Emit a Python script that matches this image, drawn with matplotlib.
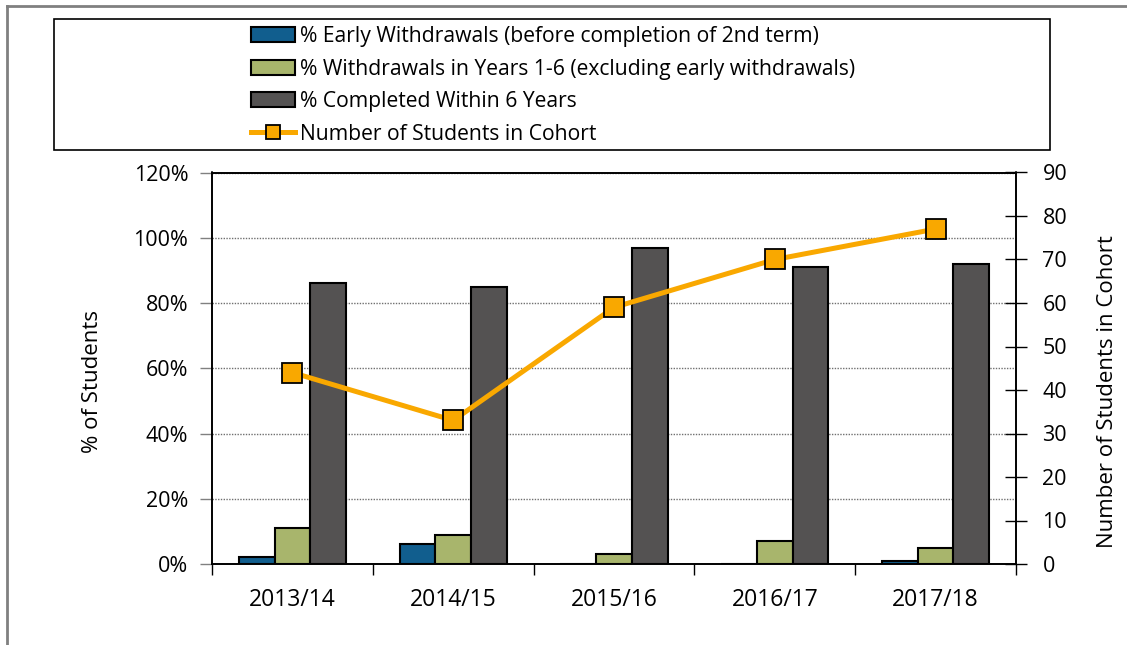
import numpy as np
import matplotlib
matplotlib.use("Agg")
import matplotlib.pyplot as plt
from matplotlib.lines import Line2D
from matplotlib.patches import Rectangle

years = ["2013/14", "2014/15", "2015/16", "2016/17", "2017/18"]
early_withdrawals = [2, 6, 0, 0, 1]
withdrawals_1_6 = [11, 9, 3, 7, 5]
completed_6 = [86, 85, 97, 91, 92]
cohort_size = [44, 33, 59, 70, 77]

labels = [
    "% Early Withdrawals (before completion of 2nd term)",
    "% Withdrawals in Years 1-6 (excluding early withdrawals)",
    "% Completed Within 6 Years",
    "Number of Students in Cohort",
]
colors = ["#115e8e", "#a8b56c", "#545252"]
line_color = "#f9a800"

plt.rcParams['font.family'] = ['Open Sans', 'DejaVu Sans']

fig = plt.figure(figsize=(11.27, 6.45), dpi=100)
ax = fig.add_axes([212 / 1127, 81 / 645, 804 / 1127, 391.5 / 645])
ax2 = ax.twinx()

x = np.arange(len(years))
w = 0.222
series = [early_withdrawals, withdrawals_1_6, completed_6]
bars = []
for i, vals in enumerate(series):
    b = ax.bar(x + (i - 1) * w, vals, w, color=colors[i], edgecolor="black",
               linewidth=1.5, label=labels[i], zorder=3)
    bars.append(b)

ln, = ax2.plot(x, cohort_size, color=line_color, linewidth=3.6, marker="s",
               markersize=14, markerfacecolor=line_color, markeredgecolor="black",
               markeredgewidth=1.3, label=labels[3], zorder=5)

ax.set_xlim(-0.5, len(years) - 0.5)
ax.set_ylim(0, 120)
ax.set_yticks(range(0, 121, 20))
ax.set_yticklabels([f"{v}%" for v in range(0, 121, 20)])
ax2.set_ylim(0, 90)
ax2.set_yticks(range(0, 91, 10))

ax.set_axisbelow(True)
ax.yaxis.grid(True, linestyle=(0, (1, 1)), color="#707070", linewidth=1)
ax.set_xticks(x)
ax.set_xticklabels(years)
ax.set_xticks(np.arange(-0.5, len(years)), minor=True)
ax.tick_params(axis="x", which="major", length=0, labelsize=16.5, pad=17)
ax.tick_params(axis="x", which="minor", length=8, width=1, direction="out", color="black")
ax.tick_params(axis="y", length=9, width=1, color="#808080", direction="out", labelsize=15.5, pad=8)
ax2.tick_params(axis="y", length=16, width=1, direction="inout", color="black", labelsize=15.5, pad=11)

for a in (ax, ax2):
    for s in a.spines.values():
        s.set_color("black")
        s.set_linewidth(1.2)

ax.set_ylabel("% of Students", fontsize=16)
ax.yaxis.set_label_coords(-0.136, 0.465)
ax2.set_ylabel("Number of Students in Cohort", fontsize=16)
ax2.yaxis.set_label_coords(1.101, 0.44)

# legend box and outer frame
fig.patches.append(Rectangle((54 / 1127, 1 - 150 / 645), 996 / 1127, 131 / 645,
                             transform=fig.transFigure, facecolor="white",
                             edgecolor="black", linewidth=1.2, zorder=0))
fig.lines.append(Line2D([7 / 1127, 7 / 1127], [0, 1 - 5.5 / 645], transform=fig.transFigure,
                        color="#808080", linewidth=2))
fig.lines.append(Line2D([7 / 1127, 1], [1 - 5.5 / 645, 1 - 5.5 / 645], transform=fig.transFigure,
                        color="#808080", linewidth=2))

fig.legend(handles=bars + [ln], labels=labels, loc="upper left",
           bbox_to_anchor=(251 / 1127, 1 - 26 / 645), frameon=False, fontsize=15.2,
           handlelength=2.1, handletextpad=0.22, labelspacing=0.55, borderpad=0,
           borderaxespad=0, markerscale=0.7)

fig.savefig("out.png", dpi=100)
